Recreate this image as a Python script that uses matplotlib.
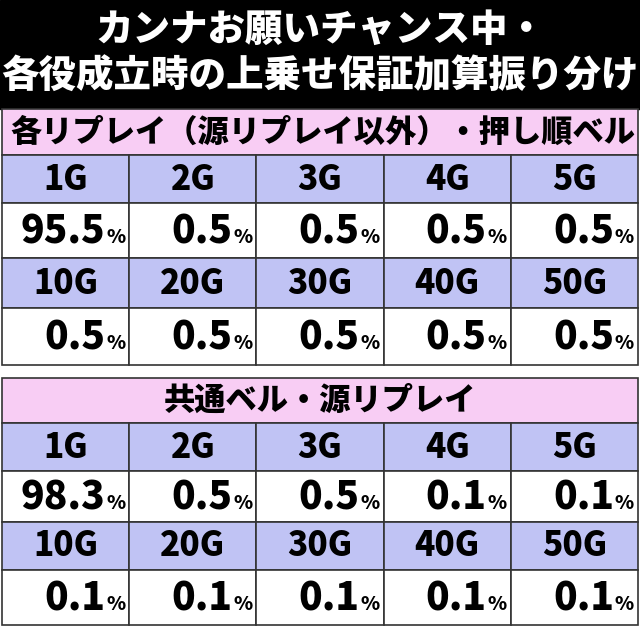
import matplotlib
matplotlib.use("Agg")
import matplotlib.pyplot as plt
from matplotlib.patches import Rectangle

plt.rcParams['font.family'] = ['Noto Sans CJK JP', 'DejaVu Sans']

title_lines = ["カンナお願いチャンス中・", "各役成立時の上乗せ保証加算振り分け"]
section_titles = ["各リプレイ（源リプレイ以外）・押し順ベル", "共通ベル・源リプレイ"]
games_row1 = ["1G", "2G", "3G", "4G", "5G"]
games_row2 = ["10G", "20G", "30G", "40G", "50G"]
sec1_row1 = ["95.5", "0.5", "0.5", "0.5", "0.5"]
sec1_row2 = ["0.5", "0.5", "0.5", "0.5", "0.5"]
sec2_row1 = ["98.3", "0.5", "0.5", "0.1", "0.1"]
sec2_row2 = ["0.1", "0.1", "0.1", "0.1", "0.1"]

W, H = 640, 629
fig = plt.figure(figsize=(6.4, 6.29), dpi=100)
ax = fig.add_axes([0, 0, 1, 1])
ax.set_xlim(0, W); ax.set_ylim(H, 0); ax.axis('off')

PINK = '#f8cdf4'; LAV = '#c0c3f4'; EDGE = '#333333'
WT = 'black'
ax.add_patch(Rectangle((0, 0), W, 109, color='black'))
ax.text(W/2, 30, title_lines[0], color='white', fontsize=27, fontweight=WT, ha='center', va='center')
ax.text(W/2, 77, title_lines[1], color='white', fontsize=27, fontweight=WT, ha='center', va='center')

x0, x1 = 2, 638
colw = (x1 - x0) / 5

def cell(x, y, w, h, fc):
    ax.add_patch(Rectangle((x, y), w, h, facecolor=fc, edgecolor=EDGE, lw=1.2))

def section(top, rows, title):
    ph = rows[0][0] - top
    cell(x0, top, x1 - x0, ph, PINK)
    longt = len(title) > 12
    ax.text(x0 + 8 if longt else W/2, top + ph/2, title, fontsize=22.5, fontweight=WT,
            ha='left' if longt else 'center', va='center')
    for y, h, kind, labels in rows:
        for i, lab in enumerate(labels):
            x = x0 + i * colw
            cell(x, y, colw, h, LAV if kind == 'g' else 'white')
            cx = x + colw / 2
            if kind == 'g':
                ax.text(cx, y + h/2, lab, fontsize=24, fontweight=WT, ha='center', va='center')
            else:
                ax.text(x + colw - 24, y + h/2 + 1, lab, fontsize=28, fontweight=WT, ha='right', va='center')
                ax.text(x + colw - 4, y + h/2 + 7, '%', fontsize=14, fontweight=WT, ha='right', va='center')

section(109, [(155, 48, 'g', games_row1), (203, 55, 'v', sec1_row1),
              (258, 50, 'g', games_row2), (308, 57, 'v', sec1_row2)], section_titles[0])
section(378, [(423, 48, 'g', games_row1), (471, 51, 'v', sec2_row1),
              (522, 48, 'g', games_row2), (570, 55, 'v', sec2_row2)], section_titles[1])

fig.savefig('out.png', dpi=100)
